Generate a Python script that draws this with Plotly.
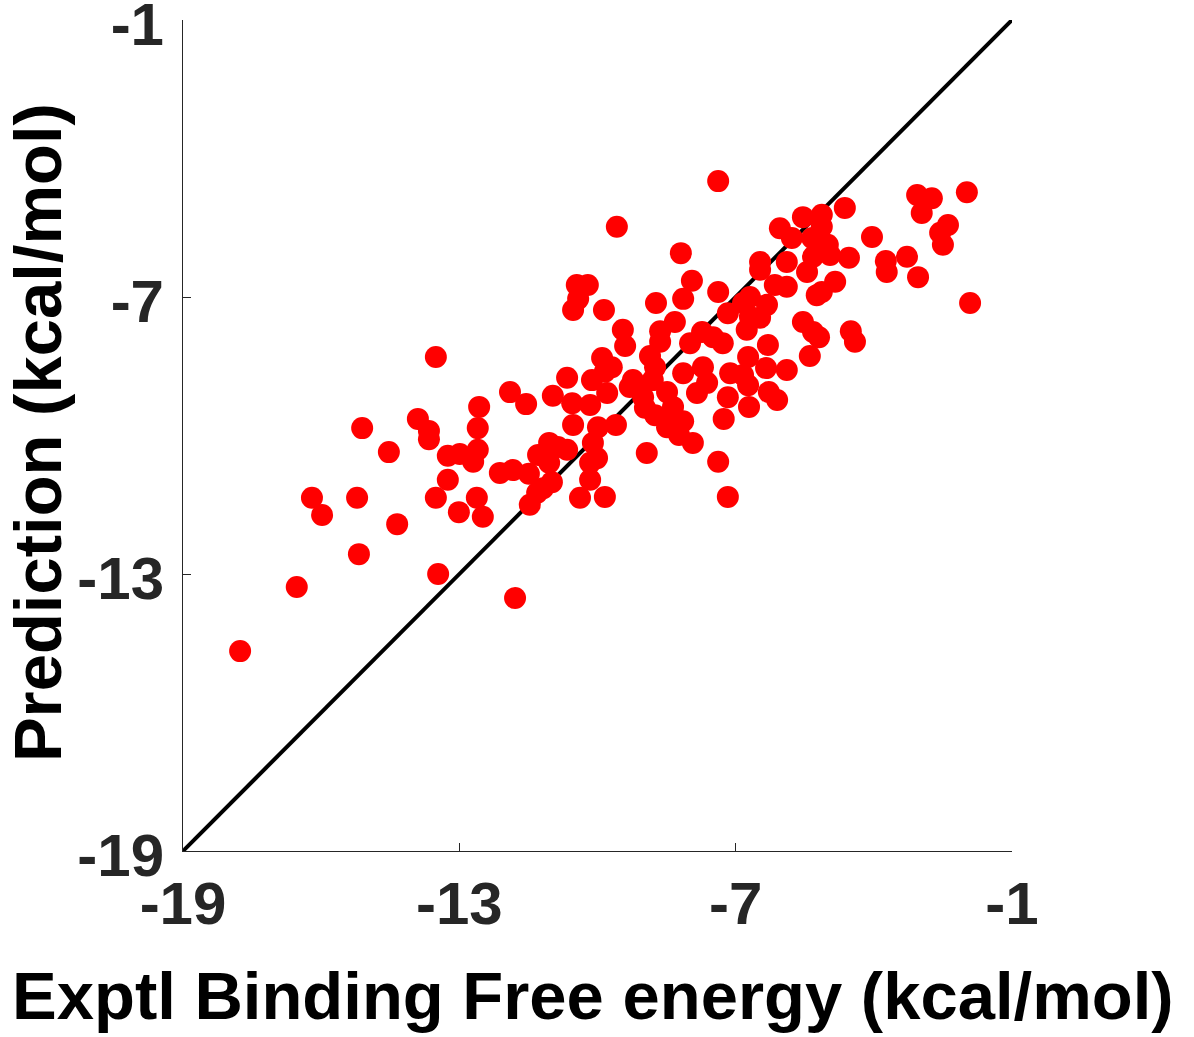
import plotly.graph_objects as go

# Experimental binding free energy (kcal/mol)
exptl = [
    -17.76, -16.53, -16.20, -15.98, -15.22, -15.18, -15.11, -14.53, -14.35, -13.90,
    -13.66, -13.66, -13.51, -13.51, -13.46, -13.25, -13.25, -12.99, -13.01, -12.70,
    -12.62, -12.57, -12.60, -12.60, -12.49, -12.12, -11.84, -11.90, -11.55, -11.79,
    -11.49, -11.47, -11.31, -11.29, -11.05, -10.86, -11.05, -10.99, -11.18, -10.97,
    -10.66, -10.55, -10.53, -10.66, -10.53, -10.45, -10.21, -10.42, -10.38, -10.16,
    -10.12, -10.16, -10.16, -10.10, -10.01, -9.99, -9.90, -9.86, -9.84, -9.79,
    -9.69, -9.84, -9.60, -9.58, -9.45, -9.40, -9.30, -9.23, -9.08, -9.01,
    -8.93, -8.86, -8.75, -8.80, -8.73, -8.64, -8.64, -8.97, -8.75, -8.49,
    -8.43, -8.49, -8.36, -8.32, -8.23, -8.19, -8.14, -8.14, -8.14, -7.99,
    -7.95, -7.93, -7.84, -7.73, -7.71, -7.62, -7.49, -7.38, -7.38, -7.38,
    -7.28, -7.26, -7.17, -7.17, -7.17, -7.12, -6.84, -6.84, -6.69, -6.76,
    -6.73, -6.73, -6.71, -6.69, -6.47, -6.47, -6.47, -6.34, -6.32, -6.30,
    -6.28, -6.15, -6.10, -6.04, -5.89, -5.89, -5.89, -5.78, -5.54, -5.54,
    -5.45, -5.39, -5.34, -5.32, -5.32, -5.24, -5.19, -5.13, -5.13, -5.13,
    -5.00, -4.95, -4.84, -4.63, -4.54, -4.50, -4.41, -4.04, -3.74, -3.72,
    -3.28, -3.04, -3.06, -2.96, -2.74, -2.56, -2.50, -2.39, -1.98, -1.91,
]

# Predicted binding free energy (kcal/mol)
prediction = [
    -14.67, -13.28, -11.35, -11.72, -11.35, -12.57, -9.84, -10.36, -11.92, -9.64,
    -9.90, -10.08, -8.30, -11.35, -13.00, -10.44, -10.96, -10.40, -11.66, -10.57,
    -11.35, -9.38, -9.84, -10.31, -11.76, -10.81, -10.75, -9.06, -9.32, -13.52,
    -10.83, -11.50, -11.24, -10.42, -10.16, -10.25, -10.59, -11.01, -11.14, -9.14,
    -8.75, -9.30, -9.77, -10.31, -7.28, -6.74, -6.74, -7.04, -11.35, -9.34,
    -8.80, -10.59, -10.96, -10.16, -10.49, -9.82, -8.32, -7.28, -11.33, -9.08,
    -8.52, -8.62, -9.77, -5.48, -7.71, -8.06, -8.95, -8.80, -9.01, -9.17,
    -10.38, -8.28, -8.52, -8.80, -7.13, -7.74, -7.97, -9.40, -9.56, -9.06,
    -9.62, -9.82, -9.38, -7.54, -9.99, -6.05, -7.04, -8.65, -9.69, -8.00,
    -6.65, -10.16, -9.08, -7.76, -8.52, -8.86, -7.87, -4.49, -6.89, -10.57,
    -8.00, -9.64, -7.35, -9.17, -11.33, -8.65, -7.13, -8.69, -7.43, -7.71,
    -8.30, -8.91, -9.38, -7.00, -6.24, -6.41, -7.45, -8.54, -7.17, -8.04,
    -9.06, -6.74, -9.23, -5.51, -6.24, -6.78, -8.58, -5.72, -5.27, -7.54,
    -6.46, -8.28, -5.72, -6.13, -7.76, -6.96, -7.87, -5.22, -5.48, -6.89,
    -5.87, -6.09, -6.67, -5.07, -6.15, -7.74, -7.97, -5.70, -6.22, -6.46,
    -6.13, -6.57, -4.79, -5.18, -4.86, -5.61, -5.87, -5.44, -4.73, -7.13,
]

identity = [-19, -1]
tick_vals = [-19, -13, -7, -1]
tick_text = ["-19", "-13", "-7", "-1"]

x_title = "Exptl Binding Free energy (kcal/mol)"
y_title = "Prediction (kcal/mol)"

fig = go.Figure()
fig.add_trace(go.Scatter(
    x=identity, y=identity, mode="lines",
    line=dict(color="black", width=4), showlegend=False, hoverinfo="skip",
))
fig.add_trace(go.Scatter(
    x=exptl, y=prediction, mode="markers",
    marker=dict(color="#FF0000", size=22, line=dict(width=0)),
    showlegend=False,
))

axis_common = dict(
    range=[-19, -1],
    tickvals=tick_vals, ticktext=tick_text,
    ticks="inside", ticklen=8, tickwidth=1, tickcolor="#262626",
    showline=True, linecolor="#262626", linewidth=1,
    showgrid=False, zeroline=False,
    automargin=False,
    ticklabeloverflow="allow",
    tickfont=dict(family="Liberation Sans", size=60, color="#262626", weight="bold"),
)

title_font = dict(family="Liberation Sans", size=67, color="black", weight="bold")

fig.update_layout(
    width=1194, height=1037,
    margin=dict(l=183, r=182, t=20, b=186),
    paper_bgcolor="white", plot_bgcolor="white",
    xaxis=dict(**axis_common),
    yaxis=dict(**axis_common, ticklabelstandoff=6, ticklabelshift=4),
    annotations=[
        dict(text=x_title, xref="paper", yref="paper", x=0.494, y=-0.174,
             xanchor="center", yanchor="middle", showarrow=False, font=title_font),
        dict(text=y_title, xref="paper", yref="paper", x=-0.176, y=0.503,
             xanchor="center", yanchor="middle", textangle=-90, showarrow=False,
             font=title_font),
    ],
)

fig.write_html("out.html")
